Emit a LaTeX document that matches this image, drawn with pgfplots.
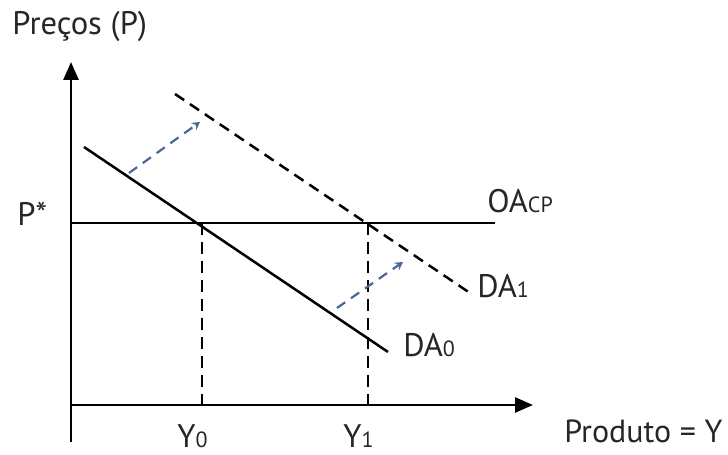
\documentclass[border=0pt]{standalone}
\usepackage{fontspec}
\setmainfont{PT Sans}
\usepackage{pgfplots}
\pgfplotsset{compat=1.18}
\usetikzlibrary{arrows.meta}
\definecolor{arrblue}{RGB}{74,103,150}
\begin{document}
\begin{tikzpicture}
\begin{axis}[x=0.5pt,y=0.5pt,xmin=0,xmax=728,ymin=0,ymax=455,
  hide axis, clip=false, scale only axis]
\addplot[draw=none] coordinates {(0,0) (728,455)};
% axes
\addplot[black, line width=1.3pt, -{Triangle[length=9pt,width=7.5pt]}] coordinates {(71,13) (71,393)};
\addplot[black, line width=1.3pt, -{Triangle[length=9pt,width=7.5pt]}] coordinates {(71,50) (533,50)};
% OA
\addplot[black, line width=1.25pt] coordinates {(71,232) (495,232)};
% DA0
\addplot[black, line width=1.25pt] coordinates {(84,308) (388,103)};
% DA1
\addplot[black, line width=1.25pt, dash pattern=on 5.5pt off 3.5pt] coordinates {(175,361) (470,162)};
% verticals
\addplot[black, line width=1.25pt, dash pattern=on 6pt off 3.5pt] coordinates {(202,232) (202,50)};
\addplot[black, line width=1.25pt, dash pattern=on 6pt off 3.5pt] coordinates {(368,232) (368,50)};
% blue shifts
\addplot[arrblue, line width=1.1pt, dash pattern=on 5pt off 3.5pt, -{Stealth[length=4pt,width=4.5pt,inset=1.5pt]}] coordinates {(129,282) (200,333)};
\addplot[arrblue, line width=1.1pt, dash pattern=on 5pt off 3.5pt, -{Stealth[length=4pt,width=4.5pt,inset=1.5pt]}] coordinates {(337,147) (403,193)};
% labels
\node[anchor=base west, inner sep=0pt, font=\fontsize{16.3}{19}\selectfont, text=black!85] at (axis cs:12,420) {Preços (P)};
\node[anchor=base west, inner sep=0pt, font=\fontsize{16.3}{19}\selectfont, text=black!85] at (axis cs:17,229) {P*};
\node[anchor=base west, inner sep=0pt, font=\fontsize{16.3}{19}\selectfont, text=black!85] at (axis cs:487,242) {OA{\fontsize{11}{12}\selectfont CP}};
\node[anchor=base west, inner sep=0pt, font=\fontsize{16.3}{19}\selectfont, text=black!85] at (axis cs:477,157) {DA{\fontsize{11}{12}\selectfont 1}};
\node[anchor=base west, inner sep=0pt, font=\fontsize{16.3}{19}\selectfont, text=black!85] at (axis cs:403,98) {DA{\fontsize{11}{12}\selectfont 0}};
\node[anchor=base west, inner sep=0pt, font=\fontsize{16.3}{19}\selectfont, text=black!85] at (axis cs:177,7) {Y{\fontsize{11}{12}\selectfont 0}};
\node[anchor=base west, inner sep=0pt, font=\fontsize{16.3}{19}\selectfont, text=black!85] at (axis cs:343,7) {Y{\fontsize{11}{12}\selectfont 1}};
\node[anchor=base west, inner sep=0pt, font=\fontsize{16}{19}\selectfont, text=black!85] at (axis cs:564,12) {Produto = Y};
\end{axis}
\end{tikzpicture}
\end{document}
